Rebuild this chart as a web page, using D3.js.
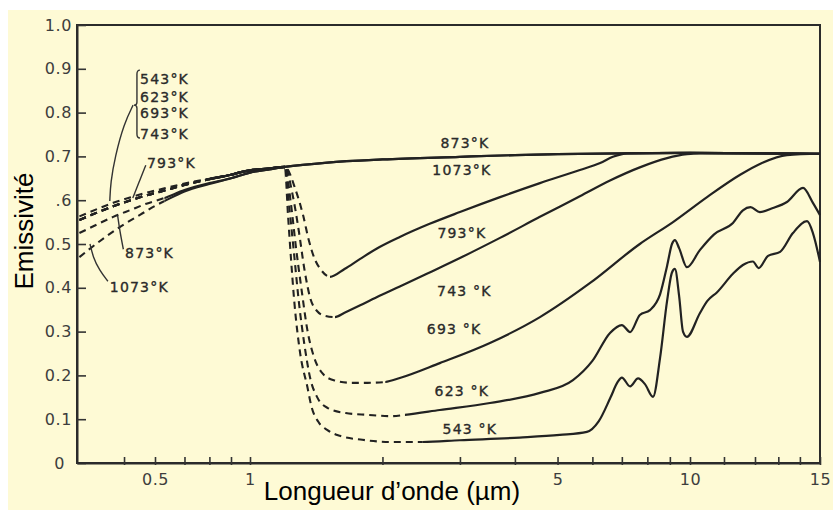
<!DOCTYPE html>
<html>
<head>
<meta charset="utf-8">
<script src="https://cdn.jsdelivr.net/npm/d3@7"></script>
<style>
  html, body { margin: 0; padding: 0; background: #ffffff; }
  svg { display: block; }
</style>
</head>
<body>
<svg id="chart" width="833" height="510"></svg>
<script>
// ---------------- data ----------------
// wavelength in µm, emissivity 0..1

const yTicks = [0, 0.1, 0.2, 0.3, 0.4, 0.5, 0.6, 0.7, 0.8, 0.9, 1.0];
const yTickLabels = ["0", "0.1", "0.2", "0.3", "0.4", "0.5", ".6", "0.7", "0.8", "0.9", "1.0"];
const xTicks = [0.4, 0.5, 0.6, 0.7, 0.8, 1, 2, 3, 4, 5, 6, 7, 8, 9, 10, 11, 12, 13, 14, 15];
const xTickLabels = { 0.5: "0.5", 1: "1", 5: "5", 10: "10", 15: "15" };

// short-wavelength branch shared by 543–793 K
const upperBundle = [
  [0.29, 0.555], [0.33, 0.572], [0.37, 0.586], [0.42, 0.600], [0.47, 0.611],
  [0.53, 0.622], [0.6, 0.635], [0.7, 0.648], [0.8, 0.658], [0.9, 0.664],
  [1.0, 0.668], [1.1, 0.672]
];
const upperBundle793 = [
  [0.29, 0.563], [0.33, 0.580], [0.37, 0.594], [0.42, 0.607], [0.47, 0.617],
  [0.53, 0.627], [0.6, 0.638], [0.7, 0.649], [0.8, 0.658], [0.9, 0.664],
  [1.0, 0.668], [1.1, 0.672]
];
const lower873 = [
  [0.29, 0.525], [0.33, 0.545], [0.37, 0.562], [0.42, 0.578], [0.47, 0.592],
  [0.53, 0.605], [0.6, 0.623], [0.7, 0.639], [0.8, 0.650], [0.9, 0.657],
  [1.0, 0.663], [1.1, 0.670]
];
const lower1073 = [
  [0.29, 0.470], [0.31, 0.487], [0.35, 0.516], [0.4, 0.545], [0.45, 0.567],
  [0.5, 0.587], [0.53, 0.598], [0.6, 0.620], [0.7, 0.637], [0.8, 0.650],
  [0.9, 0.657], [1.0, 0.663], [1.1, 0.670]
];
// long-wavelength plateau (873 K and 1073 K)
const plateau = [
  [1.2, 0.676], [1.5, 0.686], [2, 0.693], [3, 0.699], [4, 0.703],
  [5, 0.705], [7, 0.707], [10, 0.708], [15, 0.706]
];

const long793 = [
  [1.2, 0.676], [1.27, 0.623], [1.32, 0.566], [1.36, 0.509], [1.4, 0.468],
  [1.45, 0.441], [1.52, 0.425], [1.64, 0.443], [1.78, 0.466], [1.97, 0.493],
  [2.19, 0.516], [2.56, 0.546], [3.0, 0.573], [3.7, 0.607], [4.56, 0.639],
  [5.62, 0.669], [6.25, 0.685], [6.68, 0.699], [7.2, 0.707], [10, 0.708], [15, 0.706]
];
const long743 = [
  [1.2, 0.676], [1.25, 0.612], [1.29, 0.532], [1.33, 0.441], [1.37, 0.377],
  [1.42, 0.347], [1.48, 0.336], [1.56, 0.333], [1.64, 0.343], [1.78, 0.360],
  [1.97, 0.382], [2.19, 0.403], [2.56, 0.435], [3.0, 0.468], [3.7, 0.514],
  [4.56, 0.562], [5.62, 0.609], [6.58, 0.645], [7.69, 0.675], [8.87, 0.696],
  [9.84, 0.705], [10.3, 0.707], [15, 0.706]
];
const long693 = [
  [1.2, 0.676], [1.24, 0.589], [1.27, 0.498], [1.31, 0.395], [1.35, 0.304],
  [1.4, 0.240], [1.46, 0.205], [1.55, 0.189], [1.7, 0.183], [1.85, 0.183],
  [2.03, 0.185], [2.19, 0.194], [2.7, 0.228], [3.51, 0.274], [4.56, 0.333],
  [5.93, 0.411], [7.69, 0.500], [9.15, 0.550], [10.49, 0.607], [11.51, 0.658],
  [12.29, 0.685], [13.39, 0.703], [15, 0.706]
];
const long623 = [
  [1.2, 0.676], [1.23, 0.578], [1.26, 0.475], [1.29, 0.372], [1.33, 0.269],
  [1.37, 0.194], [1.42, 0.151], [1.5, 0.126], [1.65, 0.114], [1.85, 0.110],
  [2.1, 0.107], [2.25, 0.110], [2.7, 0.121], [3.51, 0.137], [4.56, 0.160],
  [5.42, 0.189], [6.0, 0.233], [6.58, 0.297], [7.0, 0.315], [7.31, 0.299],
  [7.69, 0.338], [8.11, 0.349], [8.55, 0.385], [8.87, 0.450], [9.1, 0.500],
  [9.24, 0.509], [9.45, 0.490], [9.84, 0.447], [10.28, 0.486], [10.7, 0.522],
  [11.28, 0.548], [11.6, 0.577], [11.85, 0.584], [12.2, 0.573], [12.76, 0.582],
  [13.39, 0.596], [14.15, 0.628], [14.64, 0.594], [15, 0.566]
];
const long543 = [
  [1.2, 0.676], [1.22, 0.566], [1.24, 0.463], [1.26, 0.372], [1.3, 0.251],
  [1.35, 0.174], [1.38, 0.128], [1.43, 0.094], [1.5, 0.075], [1.6, 0.062],
  [1.8, 0.053], [2.1, 0.048], [2.47, 0.048], [3.0, 0.052], [4.1, 0.058],
  [5.06, 0.064], [5.83, 0.071], [6.2, 0.095], [6.6, 0.150], [6.85, 0.185],
  [7.0, 0.195], [7.31, 0.175], [7.62, 0.193], [7.9, 0.180], [8.24, 0.151],
  [8.55, 0.240], [8.87, 0.370], [9.1, 0.435], [9.24, 0.443], [9.45, 0.380],
  [9.64, 0.300], [9.84, 0.288], [10.28, 0.342], [10.5, 0.370], [10.79, 0.390],
  [11.28, 0.432], [11.6, 0.452], [11.93, 0.460], [12.15, 0.445], [12.55, 0.473],
  [13.08, 0.482], [13.67, 0.525], [14.35, 0.552], [14.64, 0.525], [15, 0.459]
];

// wavelength spans where a curve is only estimated (drawn dashed)
const series = [
  { temp: "543", values: upperBundle.concat(long543), estimated: [[0.29, 0.7], [1.2, 2.47]] },
  { temp: "623", values: upperBundle.concat(long623), estimated: [[0.29, 0.7], [1.2, 2.25]] },
  { temp: "693", values: upperBundle.concat(long693), estimated: [[0.29, 0.7], [1.2, 2.03]] },
  { temp: "743", values: upperBundle.concat(long743), estimated: [[0.29, 0.7], [1.2, 1.56]] },
  { temp: "793", values: upperBundle793.concat(long793), estimated: [[0.29, 0.7], [1.2, 1.52]] },
  { temp: "873", values: lower873.concat(plateau), estimated: [[0.29, 0.53]] },
  { temp: "1073", values: lower1073.concat(plateau), estimated: [[0.29, 0.53]] }
];

// curve labels, anchored in data units (µm, emissivity)
const curveLabels = [
  { text: "873°K", at: [3.08, 0.731] },
  { text: "1073°K", at: [3.03, 0.669] },
  { text: "793°K", at: [3.03, 0.525] },
  { text: "743 °K", at: [3.07, 0.393] },
  { text: "693 °K", at: [2.91, 0.306] },
  { text: "623 °K", at: [3.03, 0.164] },
  { text: "543 °K", at: [3.16, 0.078] }
];
const keyLabels = [
  { text: "543°K", at: [0.449, 0.877] },
  { text: "623°K", at: [0.449, 0.836] },
  { text: "693°K", at: [0.449, 0.799] },
  { text: "743°K", at: [0.449, 0.751] },
  { text: "793°K", at: [0.472, 0.685] },
  { text: "873°K", at: [0.403, 0.479] },
  { text: "1073°K", at: [0.361, 0.402] }
];
const leaders = [
  [[0.427, 0.817], [0.40, 0.775], [0.375, 0.70], [0.363, 0.64], [0.361, 0.598]],
  [[0.468, 0.68], [0.445, 0.64], [0.426, 0.605]],
  [[0.398, 0.488], [0.388, 0.53], [0.382, 0.565]],
  [[0.356, 0.415], [0.335, 0.44], [0.32, 0.47], [0.313, 0.50]]
];
const bracketSpan = { lambda: 0.439, top: 0.897, mid: 0.817, bottom: 0.742 };

// ---------------- drawing ----------------
const W = 833, H = 510;
const plot = { left: 77, right: 820, top: 25, bottom: 463 };
const ink = "#222";

const svg = d3.select("#chart");
const defs = svg.append("defs");

svg.append("rect").attr("x", 8).attr("y", 10).attr("width", W - 8).attr("height", H - 10)
  .attr("fill", "#fefad5");

// log wavelength axis, with the stretched segments of the printed scale
const x = d3.scaleLog()
  .domain([0.285, 0.5, 0.8, 1, 10, 12, 15])
  .range([plot.left, 155, 231, 250, 690, 755, plot.right]);
const y = d3.scaleLinear().domain([0, 1]).range([plot.bottom, plot.top]);

// frame
svg.append("rect")
  .attr("x", plot.left).attr("y", plot.top)
  .attr("width", plot.right - plot.left).attr("height", plot.bottom - plot.top)
  .attr("fill", "none").attr("stroke", "#2b2b2b").attr("stroke-width", 2);

// y axis
const yAxis = svg.append("g").attr("transform", `translate(${plot.left},0)`)
  .call(d3.axisLeft(y).tickValues(yTicks).tickSizeInner(-9).tickSizeOuter(0).tickPadding(5)
    .tickFormat((d, i) => yTickLabels[i]));
yAxis.select(".domain").attr("stroke", "#2b2b2b").attr("stroke-width", 2);
yAxis.selectAll(".tick line").attr("stroke", "#333").attr("stroke-width", 1.6);
yAxis.selectAll(".tick text")
  .attr("font-family", "DejaVu Sans, sans-serif").attr("font-size", 16)
  .attr("letter-spacing", 0.6).attr("fill", "#3d3d3d")
  .attr("dx", d => d === 0 ? -7 : 0);

// x axis
const xAxis = svg.append("g").attr("transform", `translate(0,${plot.bottom})`)
  .call(d3.axisBottom(x).tickValues(xTicks).tickSizeInner(-6).tickSizeOuter(0).tickPadding(11)
    .tickFormat(d => xTickLabels[d] || ""));
xAxis.select(".domain").attr("stroke", "#2b2b2b").attr("stroke-width", 2);
xAxis.selectAll(".tick line").attr("stroke", "#333").attr("stroke-width", 1.6).attr("y1", 2);
xAxis.selectAll(".tick text")
  .attr("font-family", "DejaVu Sans, sans-serif").attr("font-size", 16)
  .attr("letter-spacing", 0.6).attr("fill", "#3d3d3d");

// curves: one smooth path per temperature, clipped into solid and dashed spans
const line = d3.line().x(d => x(d[0])).y(d => y(d[1])).curve(d3.curveMonotoneX);

function addClip(id, spans, lo, hi) {
  const cp = defs.append("clipPath").attr("id", id);
  spans.forEach(([a, b]) => {
    const x0 = a <= lo ? x(a) - 4 : x(a);
    const x1 = b >= hi ? x(b) + 4 : x(b);
    cp.append("rect").attr("x", x0).attr("y", 0).attr("width", x1 - x0).attr("height", H);
  });
}

const curves = svg.append("g").attr("fill", "none").attr("stroke", ink).attr("stroke-linecap", "butt");
series.forEach((s, i) => {
  const lo = s.values[0][0], hi = s.values[s.values.length - 1][0];
  const solid = [];
  let cur = lo;
  s.estimated.forEach(([a, b]) => { if (a > cur) solid.push([cur, a]); cur = Math.max(cur, b); });
  if (cur < hi) solid.push([cur, hi]);
  addClip(`solid-${s.temp}`, solid, lo, hi);
  addClip(`est-${s.temp}`, s.estimated, lo, hi);
  const d = line(s.values);
  curves.append("path").attr("d", d).attr("stroke-width", 2.2)
    .attr("clip-path", `url(#solid-${s.temp})`);
  curves.append("path").attr("d", d).attr("stroke-width", 2.1)
    .attr("stroke-dasharray", "7,5")
    .attr("clip-path", `url(#est-${s.temp})`);
});

// curve labels
const labelFont = g => g.attr("font-family", "DejaVu Sans, sans-serif").attr("font-size", 14)
  .attr("letter-spacing", 1.2).attr("fill", "#2a2a2a").attr("stroke", "#2a2a2a")
  .attr("stroke-width", 0.35).attr("dominant-baseline", "central");

svg.append("g").call(labelFont).selectAll("text").data(curveLabels).join("text")
  .attr("x", d => x(d.at[0])).attr("y", d => y(d.at[1]))
  .attr("text-anchor", "middle").text(d => d.text);

svg.append("g").call(labelFont).selectAll("text").data(keyLabels).join("text")
  .attr("x", d => x(d.at[0])).attr("y", d => y(d.at[1]))
  .attr("text-anchor", "start").text(d => d.text);

// brace grouping 543–743 K and the leader lines
const bx = x(bracketSpan.lambda), bt = y(bracketSpan.top), bm = y(bracketSpan.mid), bb = y(bracketSpan.bottom);
svg.append("path")
  .attr("d", `M${bx + 3},${bt} Q${bx},${bt} ${bx},${bt + 4} L${bx},${bm - 3} Q${bx},${bm} ${bx - 3},${bm}` +
    ` Q${bx},${bm} ${bx},${bm + 3} L${bx},${bb - 4} Q${bx},${bb} ${bx + 3},${bb}`)
  .attr("fill", "none").attr("stroke", "#333").attr("stroke-width", 1.4);

const leaderLine = d3.line().x(d => x(d[0])).y(d => y(d[1])).curve(d3.curveBasis);
svg.append("g").attr("fill", "none").attr("stroke", "#333").attr("stroke-width", 1.4)
  .selectAll("path").data(leaders).join("path").attr("d", leaderLine);

// axis titles
svg.append("text")
  .attr("transform", `translate(33,231) rotate(-90)`)
  .attr("text-anchor", "middle")
  .attr("font-family", "Liberation Sans, Arial, sans-serif").attr("font-size", 26)
  .attr("fill", "#000").text("Emissivité");
svg.append("text")
  .attr("x", 392).attr("y", 500).attr("text-anchor", "middle")
  .attr("font-family", "Liberation Sans, Arial, sans-serif").attr("font-size", 26)
  .attr("fill", "#000").text("Longueur d’onde (µm)");
</script>
</body>
</html>
